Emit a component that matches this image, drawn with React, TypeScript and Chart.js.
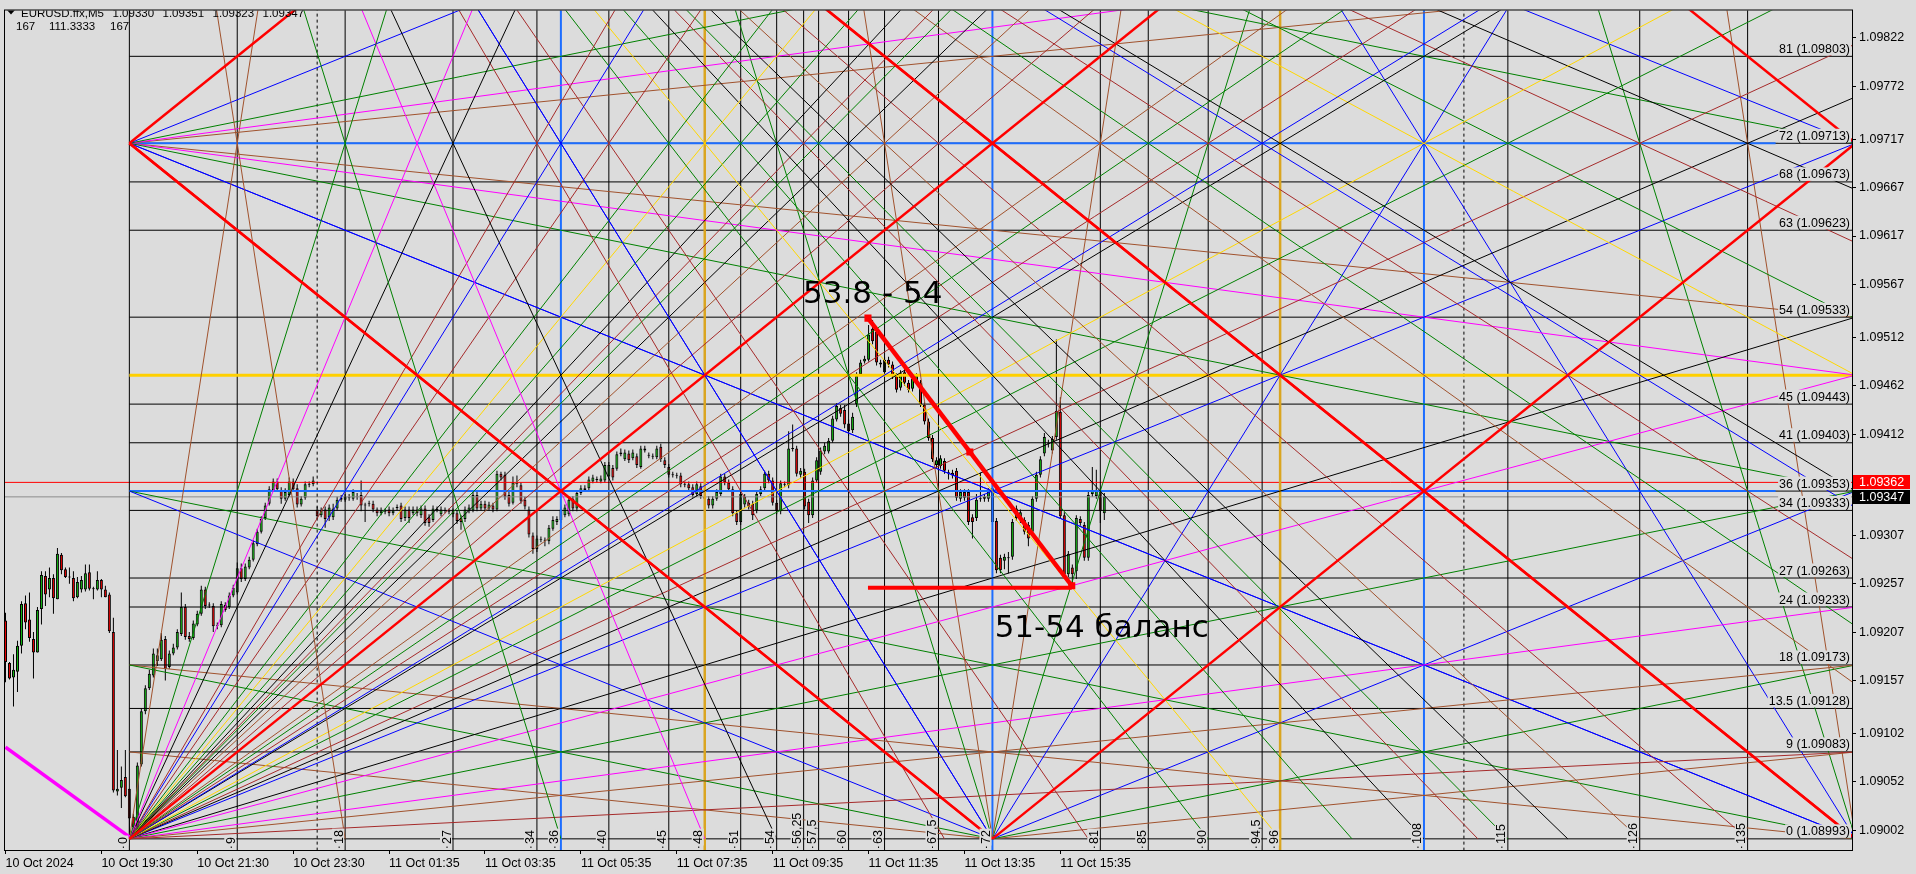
import { useEffect, useRef } from "react";
import { Chart, registerables } from "chart.js";

Chart.register(...registerables);

const BG = "#DCDCDC";
const AXIS_FONT = '"Liberation Sans", Arial, sans-serif';
const NOTE_FONT = '"DejaVu Sans", sans-serif';
const BULL = "#12B412";
const BEAR = "#E60000";

// ---------- header ----------
const SYMBOL = "EURUSD.ffx,M5";
const HEADER_OHLC = ["1.09330", "1.09351", "1.09323", "1.09347"];
const HEADER_INFO = ["167", "111.3333", "167"];

// ---------- axes ----------
const TIME_LABEL_BARS = [0, 24, 48, 72, 96, 120, 144, 168, 192, 216, 240, 264];
const TIME_LABELS = [
  "10 Oct 2024", "10 Oct 19:30", "10 Oct 21:30", "10 Oct 23:30", "11 Oct 01:35", "11 Oct 03:35",
  "11 Oct 05:35", "11 Oct 07:35", "11 Oct 09:35", "11 Oct 11:35", "11 Oct 13:35", "11 Oct 15:35",
];
const PRICE_TICKS = [
  1.09822, 1.09772, 1.09717, 1.09667, 1.09617, 1.09567, 1.09512, 1.09462, 1.09412,
  1.09307, 1.09257, 1.09207, 1.09157, 1.09102, 1.09052, 1.09002,
];
const X_MIN = -0.125;
const X_MAX = 462.125;
const Y_MIN = 1.0898148;
const Y_MAX = 1.0985043;
const ASK = 1.09362;
const BID = 1.09347;

// ---------- candles (prices in points, 1 point = 0.00001) ----------
const POINT = 0.00001;
const OPEN = [
  109219,109175,109160,109166,109193,109237,109220,109200,109186,109231,
  109265,109251,109263,109241,109287,109272,109264,109263,109243,109251,
  109251,109269,109252,109251,109261,109251,109246,109207,109042,109046,
  109057,109045,109016,109005,109070,109125,109149,109162,109177,109179,
  109200,109171,109185,109191,109205,109233,109203,109201,109215,109226,
  109251,109235,109234,109214,109214,109235,109233,109245,109248,109273,
  109262,109274,109282,109298,109311,109325,109340,109354,109363,109354,
  109345,109349,109363,109356,109339,109346,109360,109360,109334,109328,
  109334,109326,109326,109335,109344,109344,109346,109345,109347,109349,
  109339,109340,109340,109334,109330,109332,109334,109330,109336,109338,
  109325,109334,109330,109334,109328,109335,109326,109323,109334,109329,
  109333,109332,109332,109330,109325,109324,109332,109333,109349,109335,
  109340,109335,109338,109334,109371,109370,109349,109341,109361,109359,
  109344,109334,109307,109293,109303,109302,109301,109314,109321,109323,
  109328,109329,109345,109335,109351,109354,109356,109363,109365,109363,
  109364,109368,109377,109376,109391,109386,109392,109387,109389,109378,
  109395,109390,109389,109388,109399,109385,109378,109370,109369,109369,
  109360,109360,109357,109350,109358,109347,109345,109338,109345,109350,
  109368,109362,109355,109330,109321,109339,109341,109340,109333,109350,
  109356,109371,109364,109341,109332,109360,109359,109397,109397,109370,
  109373,109342,109328,109364,109373,109394,109394,109405,109427,109439,
  109437,109423,109416,109443,109474,109487,109489,109521,109518,109486,
  109476,109489,109484,109472,109460,109476,109465,109459,109466,109465,
  109442,109425,109408,109380,109379,109384,109372,109372,109374,109345,
  109352,109352,109326,109325,109345,109345,109345,109356,109322,109284,
  109281,109284,109285,109325,109323,109323,109318,109311,109345,109370,
  109392,109402,109395,109409,109435,109328,109267,109274,109270,109324,
  109318,109284,109350,109348,109353,109330,
];
const HIGH = [
  109227,109176,109184,109198,109239,109245,109248,109207,109233,109270,
  109270,109274,109267,109294,109289,109274,109274,109270,109264,109265,
  109277,109277,109254,109270,109262,109255,109248,109222,109085,109068,
  109085,109045,109019,109072,109128,109152,109168,109190,109190,109206,
  109203,109188,109195,109210,109248,109236,109207,109219,109229,109255,
  109254,109238,109237,109217,109239,109238,109248,109256,109279,109278,
  109278,109285,109302,109314,109327,109341,109358,109366,109366,109357,
  109356,109367,109366,109360,109348,109363,109363,109368,109337,109336,
  109337,109339,109340,109347,109349,109350,109350,109355,109351,109364,
  109341,109343,109343,109336,109336,109335,109337,109336,109339,109341,
  109337,109337,109337,109337,109338,109338,109329,109338,109337,109337,
  109336,109335,109335,109333,109328,109337,109339,109352,109352,109343,
  109343,109342,109341,109374,109373,109373,109352,109368,109369,109362,
  109347,109337,109310,109307,109306,109305,109318,109327,109327,109337,
  109339,109347,109348,109354,109359,109359,109368,109370,109368,109369,
  109383,109383,109380,109394,109397,109396,109395,109396,109392,109400,
  109400,109393,109392,109400,109402,109388,109381,109373,109372,109372,
  109363,109363,109360,109363,109361,109350,109348,109348,109355,109371,
  109371,109365,109358,109333,109353,109350,109344,109343,109353,109358,
  109374,109374,109367,109344,109364,109363,109415,109422,109400,109377,
  109376,109345,109367,109388,109398,109403,109408,109431,109444,109442,
  109442,109427,109434,109476,109489,109493,109525,109530,109521,109489,
  109492,109492,109487,109475,109478,109479,109468,109472,109475,109468,
  109445,109428,109411,109388,109390,109387,109375,109375,109377,109355,
  109355,109355,109329,109350,109372,109350,109356,109360,109325,109287,
  109288,109290,109324,109338,109334,109326,109321,109348,109373,109389,
  109413,109406,109410,109510,109450,109331,109291,109277,109328,109327,
  109321,109352,109378,109375,109356,109351,
];
const LOW = [
  109155,109158,109130,109145,109185,109210,109197,109159,109186,109215,
  109234,109243,109226,109241,109267,109263,109257,109239,109242,109248,
  109249,109250,109241,109250,109243,109243,109206,109041,109038,109025,
  109036,108993,109003,109000,109068,109122,109147,109160,109172,109177,
  109157,109169,109183,109189,109203,109199,109197,109199,109213,109224,
  109231,109232,109207,109210,109212,109228,109231,109243,109246,109259,
  109260,109272,109280,109296,109309,109323,109338,109352,109352,109340,
  109343,109347,109352,109336,109337,109344,109357,109358,109324,109326,
  109315,109322,109323,109333,109342,109342,109343,109343,109344,109332,
  109321,109337,109331,109327,109328,109329,109327,109328,109333,109321,
  109322,109320,109328,109327,109325,109317,109316,109321,109331,109327,
  109330,109329,109326,109319,109313,109321,109330,109331,109332,109333,
  109332,109333,109331,109332,109364,109344,109337,109339,109357,109340,
  109334,109305,109288,109290,109300,109296,109298,109312,109318,109320,
  109326,109327,109332,109332,109349,109352,109354,109361,109362,109361,
  109362,109366,109364,109374,109389,109384,109382,109385,109377,109376,
  109393,109387,109386,109386,109383,109377,109367,109367,109366,109357,
  109357,109353,109346,109347,109345,109342,109335,109335,109343,109348,
  109359,109352,109327,109318,109318,109336,109334,109323,109330,109348,
  109353,109361,109338,109329,109329,109357,109356,109394,109368,109367,
  109334,109320,109325,109362,109370,109391,109392,109403,109425,109430,
  109418,109410,109413,109440,109472,109485,109487,109505,109483,109481,
  109474,109481,109469,109455,109457,109462,109455,109456,109463,109440,
  109422,109405,109383,109377,109376,109371,109365,109366,109343,109342,
  109343,109318,109304,109322,109342,109342,109342,109318,109268,109268,
  109272,109268,109282,109322,109320,109308,109296,109308,109342,109367,
  109389,109398,109392,109406,109324,109264,109264,109255,109262,109317,
  109281,109281,109347,109345,109320,109323,
];
const CLOSE = [
  109176,109159,109168,109193,109236,109217,109201,109186,109230,109266,
  109246,109263,109242,109288,109271,109264,109264,109242,109259,109261,
  109268,109252,109252,109261,109251,109243,109208,109043,109045,109054,
  109037,109014,109005,109069,109125,109149,109164,109185,109183,109199,
  109169,109185,109191,109207,109233,109202,109200,109216,109226,109251,
  109234,109235,109213,109214,109236,109230,109245,109253,109273,109262,
  109275,109282,109299,109311,109324,109338,109355,109363,109355,109345,
  109352,109363,109355,109339,109345,109360,109360,109364,109327,109333,
  109324,109336,109335,109344,109346,109347,109346,109352,109347,109338,
  109338,109340,109334,109330,109333,109332,109330,109333,109336,109324,
  109334,109325,109334,109330,109335,109320,109320,109335,109334,109334,
  109333,109332,109329,109322,109321,109334,109336,109349,109335,109340,
  109335,109339,109334,109371,109367,109347,109340,109362,109361,109343,
  109337,109308,109293,109304,109303,109302,109315,109323,109324,109334,
  109336,109344,109335,109351,109356,109356,109365,109367,109365,109366,
  109380,109380,109367,109391,109393,109393,109385,109393,109380,109397,
  109397,109390,109389,109397,109386,109380,109370,109370,109369,109360,
  109360,109356,109349,109360,109348,109345,109338,109345,109352,109368,
  109362,109355,109330,109321,109350,109347,109337,109328,109350,109355,
  109371,109364,109341,109332,109361,109360,109397,109397,109371,109374,
  109337,109328,109364,109385,109395,109400,109405,109428,109441,109433,
  109422,109415,109430,109472,109486,109490,109515,109508,109486,109484,
  109489,109484,109472,109458,109475,109465,109458,109469,109472,109443,
  109425,109408,109386,109385,109387,109374,109372,109369,109346,109352,
  109346,109321,109321,109344,109345,109347,109352,109321,109271,109271,
  109285,109284,109321,109335,109331,109311,109304,109345,109370,109386,
  109409,109402,109407,109436,109327,109267,109288,109267,109325,109320,
  109284,109349,109353,109353,109332,109347,
];

// ---------- Gann grid ----------
const GANN_ORIGIN_BAR = 31;
const GANN_BARS_PER_UNIT = 3;
const GANN_BASE_PRICE = 1.08993;
const GANN_PRICE_PER_UNIT = 0.0001;
const GANN_SIZE = 72;
const GANN_WIDTH = 144;
const GANN_N_LIMIT = 150;
const GANN_L_LIMIT = 100;

const V_LEVELS = [0, 9, 18, 27, 34, 36, 40, 45, 48, 51, 54, 56.25, 57.5, 60, 63, 67.5, 72, 81, 85, 90, 94.5, 96, 108, 115, 126, 135];
const V_LABELS = ["0", "9", "18", "27", "34", "36", "40", "45", "48", "51", "54", "56,25", "57,5", "60", "63", "67,5", "72", "81", "85", "90", "94,5", "96", "108", "115", "126", "135"];
const V_BLUE = [36, 72, 108];
const V_GOLD = [48, 96];

const H_LEVELS = [0, 9, 13.5, 18, 24, 27, 34, 36, 41, 45, 48, 54, 63, 68, 72, 81];
const H_UNLABELED = [48];
const H_BLUE = [36, 72];
const H_GOLD = [48];
const BLUE_LEVEL_END_BAR = 443;

const SEPARATOR_BARS = [78, 365];

const COLORS: Record<string, string> = {
  red: "#FF0000", blue: "#0000FF", green: "#008000", sienna: "#A0522D",
  brown: "#A52A2A", magenta: "#FF00FF", gold: "#FFD700", black: "#000000",
};

// fan from the bottom-left origin: rays to points on the top edge (level 72) and on the right edge (unit 144)
const O1_TOP_TARGETS = [9, 18, 24, 27, 34, 36, 40, 45, 48, 51, 54, 56.25, 57.5, 60, 63, 67.5, 72, 81, 85, 90, 94.5, 96, 108, 115, 126, 135];
const O1_TOP_COLORS = ["sienna", "green", "magenta", "black", "brown", "blue", "brown", "green", "gold", "green", "black", "brown", "green", "black", "sienna", "brown", "red", "sienna", "green", "brown", "blue", "black", "gold", "green", "brown", "black"];
const O1_SIDE_TARGETS = [9, 18, 24, 36, 48, 54, 72];
const O1_SIDE_COLORS = ["brown", "sienna", "magenta", "green", "magenta", "black", "blue"];
// fan from the top-left corner, down and up
const O2_TARGETS = [72, 36, 24, 18];
const O2_COLORS = ["blue", "green", "magenta", "sienna"];
// plain corner fans
const CORNER_RATIOS = [8, 4, 2, 1, 1 / 2, 1 / 4, 1 / 8];
const CORNER_COLORS = ["sienna", "green", "blue", "red", "blue", "green", "sienna"];
const CORNER_FANS = [
  { n: 72, L: 0, dirs: [[-1, 1], [1, 1]], ratios: CORNER_RATIOS, colors: CORNER_COLORS },
  { n: 144, L: 0, dirs: [[-1, 1]], ratios: CORNER_RATIOS, colors: CORNER_COLORS },
  { n: 144, L: 72, dirs: [[-1, 1]], ratios: [1, 1 / 2, 1 / 4], colors: ["red", "blue", "green"] },
  { n: 0, L: 72, dirs: [[1, -1], [1, 1]], ratios: [1], colors: ["red"] },
];

// ---------- drawn objects ----------
const TREND_BARS = [215.85, 241.35, 266.85];
const TREND_PRICES = [1.09532, 1.093935, 1.09255];
const BASE_LINE_BARS = [215.85, 266.85];
const BASE_LINE_PRICE = 1.09253;
const MAGENTA_TREND_BARS = [0, 31];
const MAGENTA_TREND_PRICES = [1.09088, 1.08995];
const NOTES = [
  { text: "53.8 - 54", bar: 199.6, price: 1.095475 },
  { text: "51-54 баланс", bar: 247.55, price: 1.09202 },
];

const gx = (n: number) => GANN_ORIGIN_BAR + GANN_BARS_PER_UNIT * n;
const gy = (L: number) => GANN_BASE_PRICE + GANN_PRICE_PER_UNIT * L;

function rayEnd(n0: number, L0: number, sx: number, sy: number, r: number): [number, number] {
  let t = sx > 0 ? GANN_N_LIMIT - n0 : n0;
  if (sy < 0) t = Math.min(t, L0 / r);
  else t = Math.min(t, (GANN_L_LIMIT - L0) / r);
  return [n0 + sx * t, L0 + sy * r * t];
}

function lineDs(pts: { x: number; y: number }[], color: string, width: number, order: number, extra: any = {}) {
  return {
    type: "line",
    data: pts,
    borderColor: color,
    borderWidth: width,
    pointRadius: 0,
    tension: 0,
    fill: false,
    order,
    ...extra,
  };
}

function gannSeg(n0: number, L0: number, n1: number, L1: number, colorName: string) {
  const red = colorName === "red";
  return lineDs([{ x: gx(n0), y: gy(L0) }, { x: gx(n1), y: gy(L1) }], COLORS[colorName], red ? 2.5 : 1, red ? 30 : 40);
}

function gannRay(n0: number, L0: number, sx: number, sy: number, r: number, colorName: string) {
  const [n1, L1] = rayEnd(n0, L0, sx, sy, r);
  return gannSeg(n0, L0, n1, L1, colorName);
}

function buildDatasets() {
  const ds: any[] = [];
  const count = Math.min(OPEN.length, HIGH.length, LOW.length, CLOSE.length);
  const wicks: any[] = [];
  const bodies: any[] = [];
  const bodyColors: string[] = [];
  for (let i = 0; i < count; i++) {
    wicks.push({ x: i, y: [LOW[i] * POINT, HIGH[i] * POINT] });
    let lo = Math.min(OPEN[i], CLOSE[i]);
    let hi = Math.max(OPEN[i], CLOSE[i]);
    if (hi - lo < 1) { lo -= 0.5; hi += 0.5; }
    bodies.push({ x: i, y: [lo * POINT, hi * POINT] });
    bodyColors.push(CLOSE[i] >= OPEN[i] ? BULL : BEAR);
  }
  ds.push({ type: "bar", data: wicks, backgroundColor: "#000", borderWidth: 0, barThickness: 1, grouped: false, inflateAmount: 0, order: 100 });
  ds.push({ type: "bar", data: bodies, backgroundColor: bodyColors, borderColor: "#000", borderWidth: 1, borderSkipped: false, barThickness: 3, grouped: false, inflateAmount: 0, order: 99 });

  // ask / bid
  ds.push(lineDs([{ x: X_MIN - 2, y: ASK }, { x: X_MAX + 2, y: ASK }], "#FF0000", 1, 60));
  ds.push(lineDs([{ x: X_MIN - 2, y: BID }, { x: X_MAX + 2, y: BID }], "#8C8C8C", 1, 60));

  // separators
  SEPARATOR_BARS.forEach((b) => {
    ds.push(lineDs([{ x: b, y: Y_MIN - 0.001 }, { x: b, y: Y_MAX + 0.001 }], "#000", 1, 55, { borderDash: [3, 3] }));
  });

  // vertical levels
  V_LEVELS.forEach((n) => {
    const pts = [{ x: gx(n), y: Y_MIN - 0.001 }, { x: gx(n), y: Y_MAX + 0.001 }];
    if (V_BLUE.includes(n)) ds.push(lineDs(pts, "#1C6DFF", 2, 45));
    else if (V_GOLD.includes(n)) ds.push(lineDs(pts, "#DAA520", 2.5, 45));
    else ds.push(lineDs(pts, "#000", 1, 50));
  });

  // horizontal levels
  H_LEVELS.forEach((L) => {
    if (H_GOLD.includes(L)) {
      ds.push(lineDs([{ x: gx(0), y: gy(L) }, { x: X_MAX + 5, y: gy(L) }], "#FFD000", 3, 44));
      return;
    }
    if (H_BLUE.includes(L)) {
      ds.push(lineDs([{ x: gx(0), y: gy(L) }, { x: BLUE_LEVEL_END_BAR, y: gy(L) }], "#1C6DFF", 2, 46));
    }
    ds.push(lineDs([{ x: gx(0), y: gy(L) }, { x: X_MAX + 5, y: gy(L) }], "#000", 1, 47));
  });

  // O1 fan to the top points + reflected lines
  O1_TOP_TARGETS.forEach((V, i) => {
    const r = GANN_SIZE / V;
    const c = O1_TOP_COLORS[i];
    ds.push(gannRay(0, 0, 1, 1, r, c));
    const nStart = V - (GANN_L_LIMIT - GANN_SIZE) / r;
    const nEnd = Math.min(2 * V, GANN_N_LIMIT);
    ds.push(gannSeg(nStart, GANN_L_LIMIT, nEnd, GANN_SIZE - r * (nEnd - V), c));
  });
  // O1 fan to the right edge points
  O1_SIDE_TARGETS.forEach((H, i) => {
    ds.push(gannRay(0, 0, 1, 1, H / GANN_WIDTH, O1_SIDE_COLORS[i]));
  });
  // O2 fan down-right and up-right
  O2_TARGETS.forEach((H, i) => {
    ds.push(gannRay(0, GANN_SIZE, 1, -1, H / GANN_WIDTH, O2_COLORS[i]));
    ds.push(gannRay(0, GANN_SIZE, 1, 1, H / GANN_WIDTH, O2_COLORS[i]));
  });
  // corner fans
  CORNER_FANS.forEach((f) => {
    f.dirs.forEach(([sx, sy]) => {
      f.ratios.forEach((r, i) => ds.push(gannRay(f.n, f.L, sx, sy, r, f.colors[i])));
    });
  });

  // magenta trendline bottom-left
  ds.push(lineDs(MAGENTA_TREND_BARS.map((b, i) => ({ x: b, y: MAGENTA_TREND_PRICES[i] })), "#FF00FF", 3.5, 20));

  // red trend + base
  ds.push(lineDs(BASE_LINE_BARS.map((b) => ({ x: b, y: BASE_LINE_PRICE })), "#FF0000", 4, 12));
  ds.push(lineDs(TREND_BARS.map((b, i) => ({ x: b, y: TREND_PRICES[i] })), "#FF0000", 4.5, 10, {
    pointRadius: 5, pointStyle: "rect", pointBackgroundColor: "#FF0000", pointBorderColor: "#FF0000", pointBorderWidth: 0,
  }));
  return ds;
}

const overlayPlugin = {
  id: "overlay",
  beforeDraw(chart: any) {
    const ctx = chart.ctx;
    ctx.save();
    ctx.fillStyle = BG;
    ctx.fillRect(0, 0, chart.width, chart.height);
    ctx.restore();
  },
  afterDatasetsDraw(chart: any) {
    const { ctx, chartArea: a, scales } = chart;
    const xs = scales.x;
    const ys = scales.y;
    ctx.save();
    ctx.beginPath();
    ctx.rect(a.left, a.top, a.right - a.left, a.bottom - a.top);
    ctx.clip();

    // right side level labels
    ctx.font = `12.5px ${AXIS_FONT}`;
    ctx.textBaseline = "alphabetic";
    H_LEVELS.forEach((L) => {
      if (H_UNLABELED.includes(L)) return;
      const yy = ys.getPixelForValue(gy(L));
      const txt = `${L} (${gy(L).toFixed(5)})`;
      const w = ctx.measureText(txt).width;
      const right = a.right - 2;
      ctx.fillStyle = BG;
      ctx.fillRect(right - w - 1, yy - 14.5, w + 2, 13.5);
      ctx.fillStyle = "#000";
      ctx.textAlign = "right";
      ctx.fillText(txt, right, yy - 3.5);
    });

    // bottom rotated labels
    V_LEVELS.forEach((n, i) => {
      const px = xs.getPixelForValue(gx(n));
      const txt = V_LABELS[i];
      const w = ctx.measureText(txt).width;
      ctx.save();
      ctx.translate(px - 2.5, a.bottom - 6);
      ctx.rotate(-Math.PI / 2);
      ctx.fillStyle = BG;
      ctx.fillRect(-1.5, -10.5, w + 3, 12);
      ctx.fillStyle = "#000";
      ctx.textAlign = "left";
      ctx.fillText(txt, 0, 0);
      ctx.restore();
      ctx.fillStyle = "#000";
      ctx.fillRect(px - 6.5, a.bottom - 3.5, 1, 1.5);
    });

    // notes
    ctx.font = `31px ${NOTE_FONT}`;
    ctx.textAlign = "left";
    ctx.fillStyle = "#000";
    NOTES.forEach((nt) => {
      ctx.fillText(nt.text, xs.getPixelForValue(nt.bar), ys.getPixelForValue(nt.price));
    });

    // header
    ctx.beginPath();
    ctx.moveTo(7, 10);
    ctx.lineTo(15, 10);
    ctx.lineTo(11, 14.5);
    ctx.closePath();
    ctx.fill();
    ctx.font = `11.5px ${AXIS_FONT}`;
    ctx.fillText(SYMBOL, 21, 16.5);
    HEADER_OHLC.forEach((t, i) => ctx.fillText(t, 112.5 + 50 * i, 16.5));
    const infoX = [16, 49, 110];
    HEADER_INFO.forEach((t, i) => ctx.fillText(t, infoX[i], 30));
    ctx.restore();

    // frame
    ctx.save();
    ctx.strokeStyle = "#000";
    ctx.lineWidth = 1;
    ctx.strokeRect(a.left - 0.5, a.top - 0.5, a.right - a.left + 1, a.bottom - a.top + 1);
    ctx.restore();
  },
  afterDraw(chart: any) {
    const { ctx, chartArea: a, scales } = chart;
    const ys = scales.y;
    ctx.save();
    ctx.font = `12.5px ${AXIS_FONT}`;
    ctx.textBaseline = "middle";
    ctx.textAlign = "left";
    [
      { v: ASK, bg: "#FF0000" },
      { v: BID, bg: "#000000" },
    ].forEach((b) => {
      const yy = Math.round(ys.getPixelForValue(b.v));
      ctx.fillStyle = b.bg;
      ctx.fillRect(a.right + 1, yy - 7, 57, 14);
      ctx.fillStyle = "#FFFFFF";
      ctx.fillText(b.v.toFixed(5), a.right + 7, yy + 0.5);
    });
    ctx.restore();
  },
};

export default function App() {
  const ref = useRef<HTMLCanvasElement | null>(null);
  useEffect(() => {
    document.body.style.margin = "0";
    Chart.defaults.font.family = AXIS_FONT;
    const chart = new Chart(ref.current as HTMLCanvasElement, {
      type: "bar",
      data: { datasets: buildDatasets() as any },
      options: {
        animation: false,
        responsive: false,
        devicePixelRatio: 1,
        events: [],
        layout: { padding: { left: 3, top: 3, right: 0, bottom: 0 } },
        plugins: { legend: { display: false }, tooltip: { enabled: false } },
        scales: {
          x: {
            type: "linear",
            min: X_MIN,
            max: X_MAX,
            offset: false,
            position: "bottom",
            afterBuildTicks: (s: any) => { s.ticks = TIME_LABEL_BARS.map((v) => ({ value: v })); },
            afterFit: (s: any) => { s.height = 24; },
            grid: { drawOnChartArea: false, drawTicks: true, tickLength: 4, color: "#000", offset: false },
            border: { display: false },
            ticks: {
              autoSkip: false, maxRotation: 0, minRotation: 0, align: "start", padding: 2, color: "#000",
              font: { family: AXIS_FONT, size: 12.5 },
              callback: (_v: any, i: number) => TIME_LABELS[i],
            },
          },
          y: {
            type: "linear",
            position: "right",
            min: Y_MIN,
            max: Y_MAX,
            afterBuildTicks: (s: any) => { s.ticks = PRICE_TICKS.map((v) => ({ value: v })); },
            afterFit: (s: any) => { s.width = 64; },
            grid: { drawOnChartArea: false, drawTicks: true, tickLength: 4, color: "#000" },
            border: { display: false },
            ticks: {
              autoSkip: false, padding: 3, color: "#000",
              font: { family: AXIS_FONT, size: 12.5 },
              callback: (v: any) => Number(v).toFixed(5),
            },
          },
        },
      } as any,
      plugins: [overlayPlugin as any],
    });
    return () => chart.destroy();
  }, []);
  return (
    <div style={{ position: "fixed", left: 0, top: 0, width: 1916, height: 874, background: BG }}>
      <canvas ref={ref} width={1916} height={874} style={{ display: "block", width: 1916, height: 874 }} />
    </div>
  );
}
